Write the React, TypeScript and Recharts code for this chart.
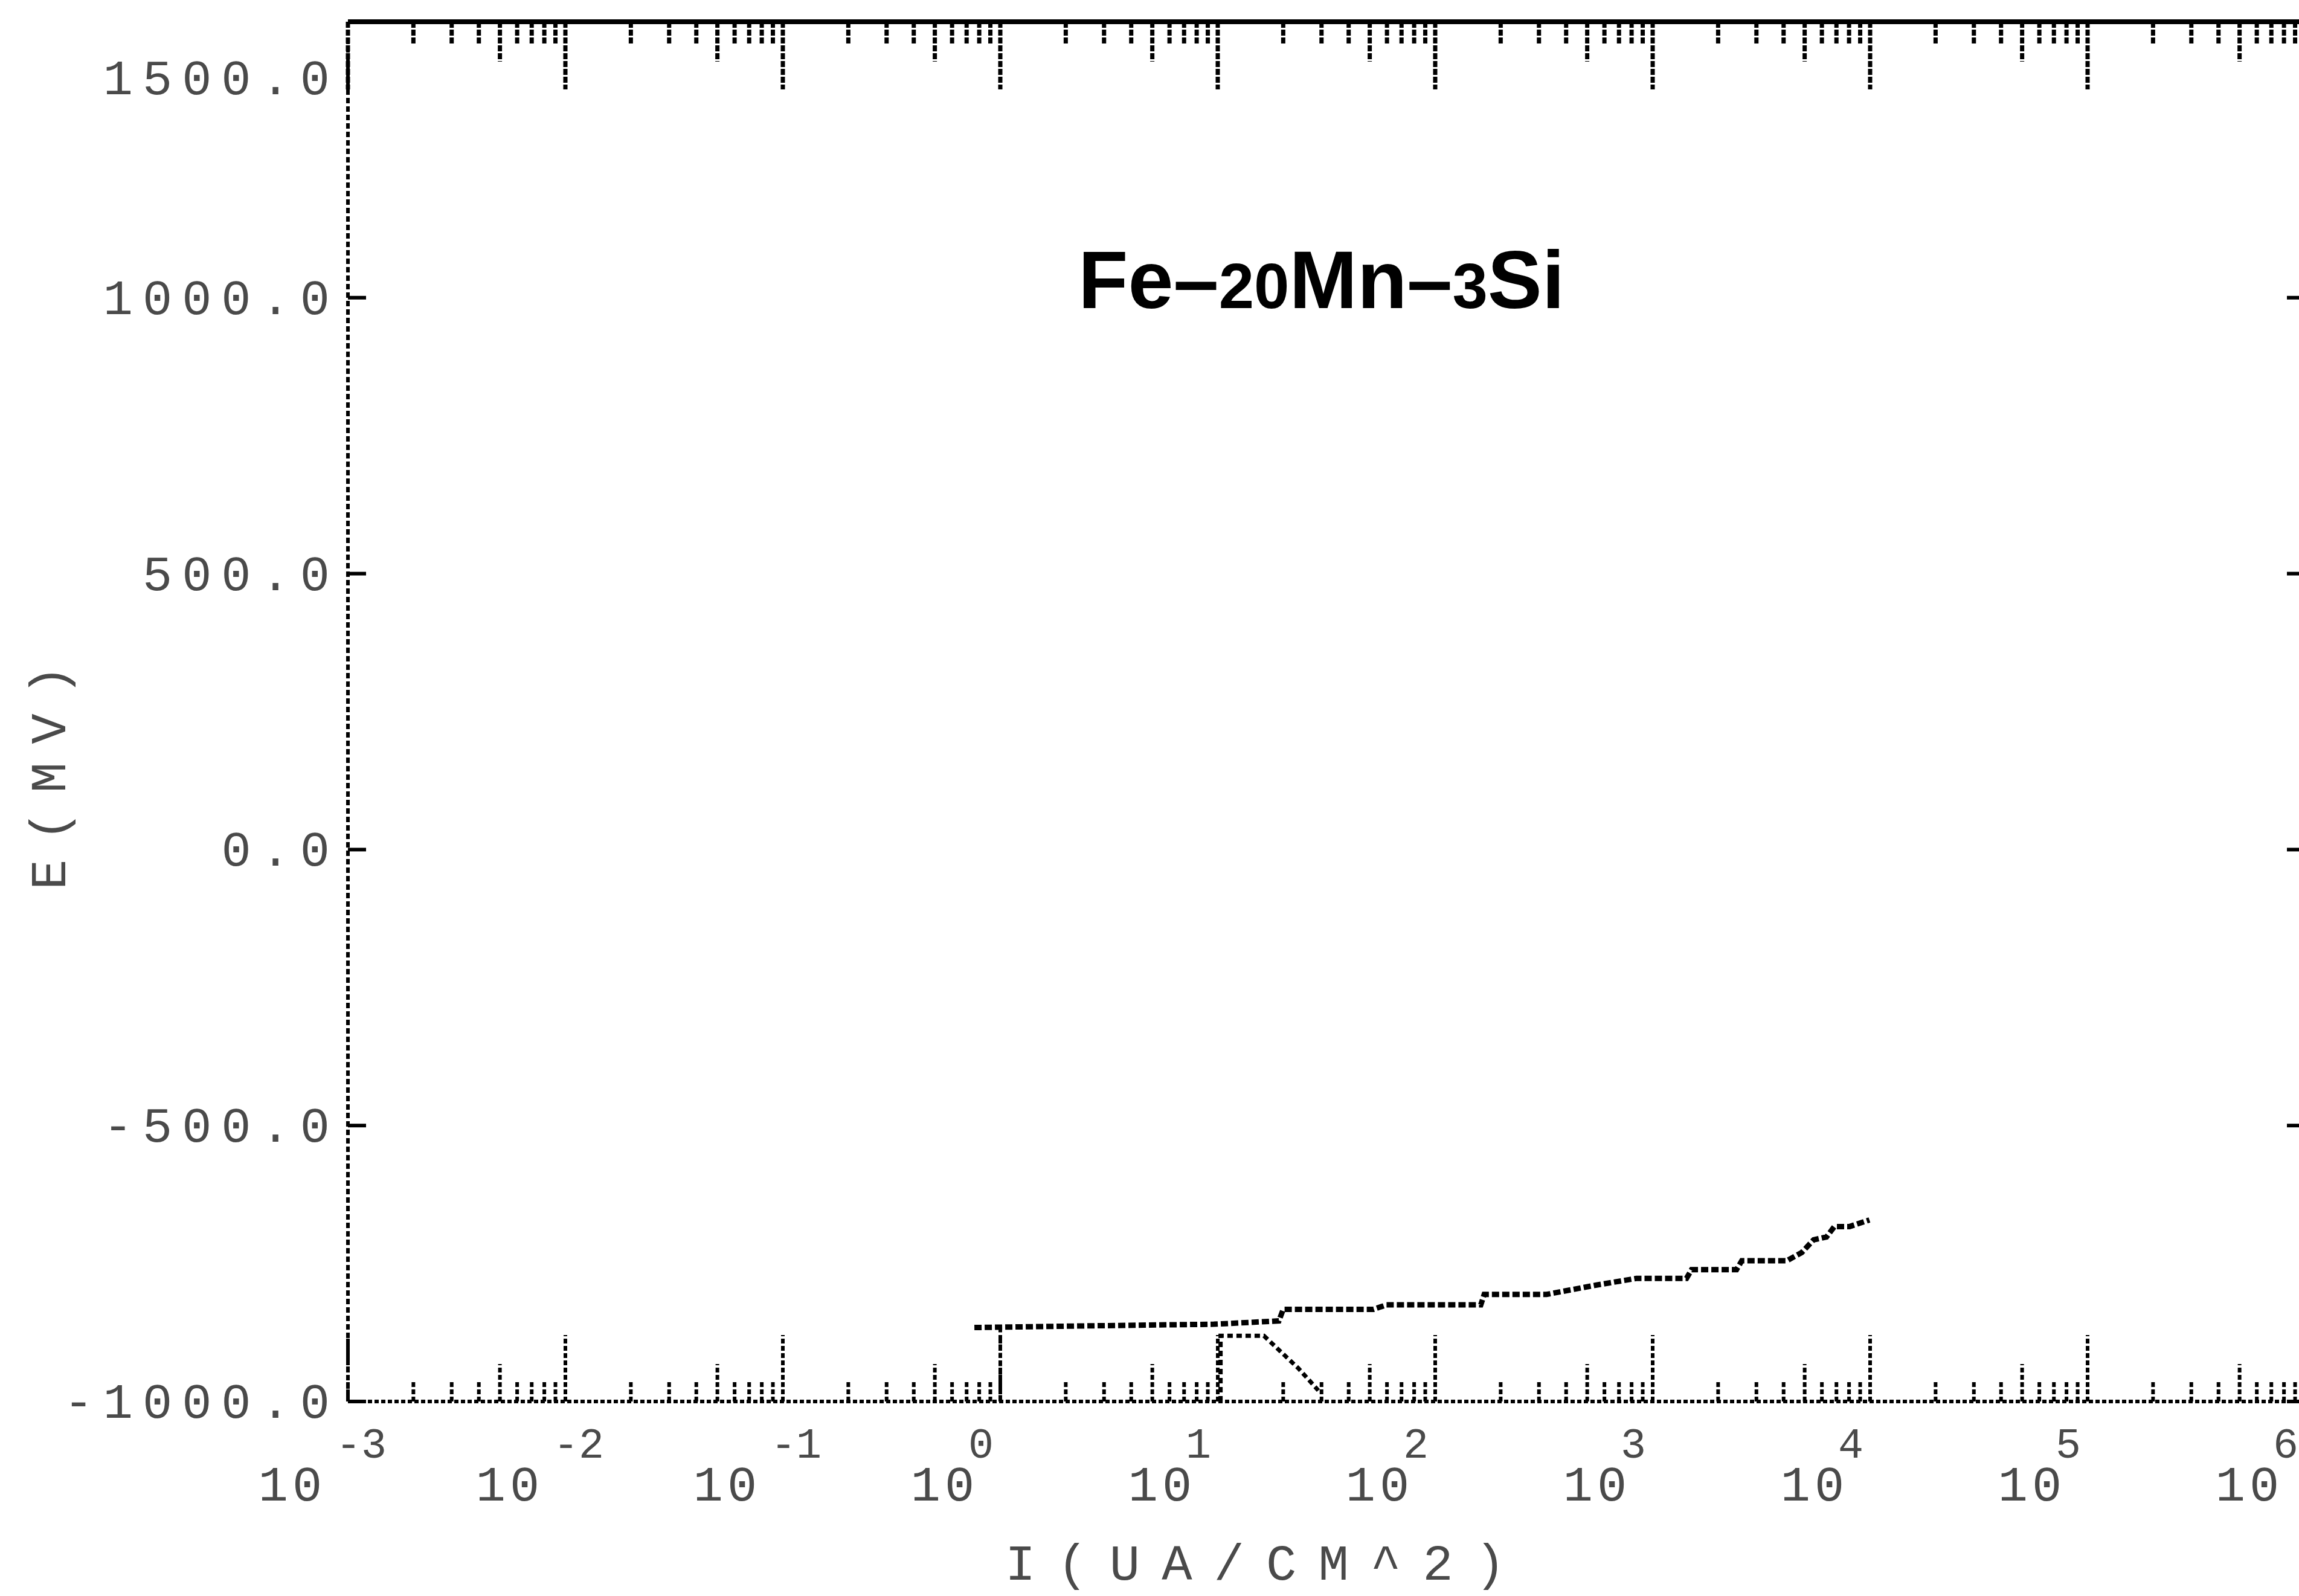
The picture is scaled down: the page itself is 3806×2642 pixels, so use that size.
import { LineChart, Line, XAxis, YAxis } from "recharts";

// axis ticks
const decades = [-3, -2, -1, 0, 1, 2, 3, 4, 5, 6];
const minorSteps = [2, 3, 4, 5, 6, 7, 8, 9];
const potentialTicks = [-1000, -500, 0, 500, 1000, 1500];

// anodic branch (uA/cm2, mV)
const anodicCurrent = [0.76, 2.5, 9.6, 19.1, 20, 52, 59.6, 162, 168, 325, 552, 841, 1430, 1510, 2430, 2570, 4140, 4850, 5500, 6300, 6850, 8050, 9930];
const anodicPotential = [-866, -863, -860, -854, -833, -833, -825, -825, -806, -806, -789, -777, -777, -761, -761, -745, -745, -730, -707, -702, -683, -683, -671];

// drop to the axis near 1 uA/cm2
const dropCurrent = [1.0, 1.0];
const dropPotential = [-866, -1000];

// cathodic piece
const cathodicCurrent = [10.3, 10.3, 16.3, 23.5, 29];
const cathodicPotential = [-1000, -881, -881, -940, -980];

const toRows = (cur: number[], pot: number[]) => cur.map((c, i) => ({ i: c, e: pot[i] }));

const anodic = toRows(anodicCurrent, anodicPotential);
const drop = toRows(dropCurrent, dropPotential);
const cathodic = toRows(cathodicCurrent, cathodicPotential);

const currentTicks: number[] = [];
decades.forEach((d) => {
  currentTicks.push(Number((10 ** d).toPrecision(3)));
  if (d < 6) minorSteps.forEach((m) => currentTicks.push(Number((m * 10 ** d).toPrecision(3))));
});

const MONO = "'Liberation Mono', 'DejaVu Sans Mono', monospace";
const INK = "#4a4a4a";

function tickInfo(v: number) {
  const e = Math.floor(Math.log10(v) + 1e-9);
  const mant = Math.round(v / 10 ** e);
  return { e, mant, major: mant === 1 };
}

function BottomTick(props: any) {
  const { x, y, payload } = props;
  const { e, mant, major } = tickInfo(payload.value);
  const len = major ? 110 : mant === 5 ? 62 : 34;
  return (
    <g>
      <line x1={x} y1={y} x2={x} y2={y - len} stroke="#000" strokeWidth={6} strokeDasharray="8 4" />
      {major && (
        <g fill={INK} fontFamily={MONO}>
          <text x={x - 92} y={y + 164} textAnchor="middle" fontSize={82} letterSpacing={7}>
            10
          </text>
          <text x={e < 0 ? x + 22 : x - 32} y={y + 93} textAnchor="middle" fontSize={70}>
            {e}
          </text>
        </g>
      )}
    </g>
  );
}

function TopTick(props: any) {
  const { x, y, payload } = props;
  const { mant, major } = tickInfo(payload.value);
  const len = major ? 112 : mant === 5 ? 66 : 36;
  return <line x1={x} y1={y} x2={x} y2={y + len} stroke="#000" strokeWidth={7} strokeDasharray="10 3" />;
}

function LeftTick(props: any) {
  const { x, y, payload } = props;
  const v = payload.value;
  const top = v === potentialTicks[potentialTicks.length - 1];
  return (
    <g>
      <line x1={x} y1={y} x2={x + 30} y2={y} stroke="#000" strokeWidth={6} />
      <text
        x={x - 14}
        y={top ? y + 120 : y + 27}
        textAnchor="end"
        fill={INK}
        fontFamily={MONO}
        fontSize={82}
        letterSpacing={16}
      >
        {v + ".0"}
      </text>
    </g>
  );
}

function RightTick(props: any) {
  const { x, y } = props;
  return <line x1={x} y1={y} x2={x - 30} y2={y} stroke="#000" strokeWidth={6} />;
}

export default function App() {
  return (
    <div
      style={{
        position: "absolute",
        left: 0,
        top: 0,
        width: 3806,
        height: 2642,
        overflow: "hidden",
        background: "#fff",
      }}
    >
      <LineChart width={3830} height={2642} margin={{ top: 34, right: 12, bottom: 0, left: 0 }}>
        <XAxis
          dataKey="i"
          type="number"
          scale="log"
          domain={[0.001, 1000000]}
          allowDataOverflow
          ticks={currentTicks}
          interval={0}
          height={322}
          tickSize={0}
          tickMargin={0}
          tick={<BottomTick />}
          axisLine={{ stroke: "#000", strokeWidth: 6, strokeDasharray: "7 4" }}
        />
        <XAxis
          xAxisId="top"
          orientation="top"
          dataKey="i"
          type="number"
          scale="log"
          domain={[0.001, 1000000]}
          allowDataOverflow
          ticks={currentTicks}
          interval={0}
          height={2}
          tickSize={0}
          tickMargin={0}
          tick={<TopTick />}
          axisLine={{ stroke: "#000", strokeWidth: 8 }}
        />
        <YAxis
          type="number"
          domain={[-1000, 1500]}
          allowDataOverflow
          ticks={potentialTicks}
          interval={0}
          width={576}
          tickSize={0}
          tickMargin={0}
          tick={<LeftTick />}
          axisLine={{ stroke: "#000", strokeWidth: 6, strokeDasharray: "9 5" }}
        />
        <YAxis
          yAxisId="right"
          orientation="right"
          type="number"
          domain={[-1000, 1500]}
          allowDataOverflow
          ticks={potentialTicks}
          interval={0}
          width={2}
          tickSize={0}
          tickMargin={0}
          tick={<RightTick />}
          axisLine={{ stroke: "#000", strokeWidth: 6 }}
        />
        <Line
          data={anodic}
          dataKey="e"
          type="linear"
          stroke="#000"
          strokeWidth={9}
          strokeDasharray="12 5"
          dot={false}
          isAnimationActive={false}
        />
        <Line
          data={drop}
          dataKey="e"
          type="linear"
          stroke="#000"
          strokeWidth={6}
          strokeDasharray="8 6"
          dot={false}
          isAnimationActive={false}
        />
        <Line
          data={cathodic}
          dataKey="e"
          type="linear"
          stroke="#000"
          strokeWidth={7}
          strokeDasharray="9 6"
          dot={false}
          isAnimationActive={false}
        />
      </LineChart>
      <svg
        width={3806}
        height={2642}
        style={{ position: "absolute", left: 0, top: 0, pointerEvents: "none" }}
      >
        <text
          x={1785}
          y={510}
          fontFamily="'Liberation Sans', Arial, sans-serif"
          fontWeight="bold"
          fontSize={135}
          fill="#000"
        >
          Fe–<tspan fontSize={105}>20</tspan>Mn–<tspan fontSize={105}>3</tspan>Si
        </text>
        <text
          x={2096}
          y={2615}
          textAnchor="middle"
          fontFamily={MONO}
          fontSize={84}
          letterSpacing={36}
          fill={INK}
        >
          I(UA/CM^2)
        </text>
        <text
          x={108}
          y={1272}
          transform="rotate(-90 108 1272)"
          textAnchor="middle"
          fontFamily={MONO}
          fontSize={84}
          letterSpacing={30}
          fill={INK}
        >
          E(MV)
        </text>
      </svg>
    </div>
  );
}
